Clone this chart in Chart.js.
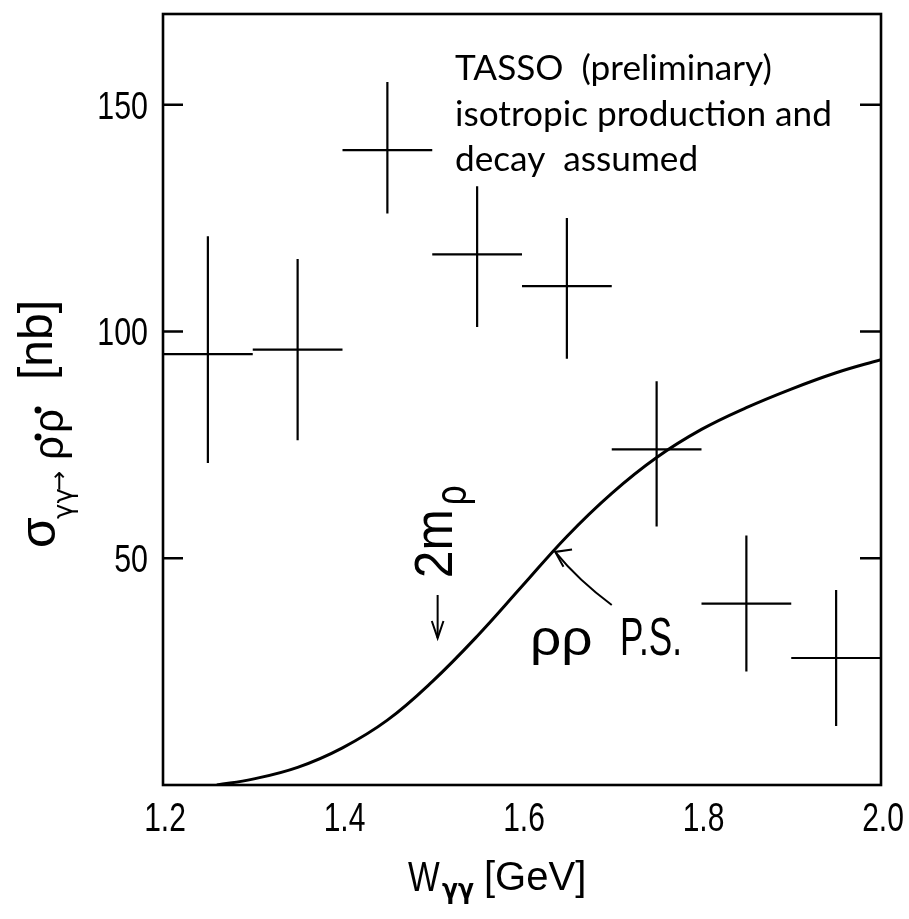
<!DOCTYPE html>
<html>
<head>
<meta charset="utf-8">
<script src="https://cdn.jsdelivr.net/npm/chart.js@4.4.1/dist/chart.umd.min.js"></script>
<style>
  html, body { margin: 0; padding: 0; background: #fff; }
  #wrap { width: 909px; height: 919px; }
</style>
</head>
<body>
<div id="wrap"><canvas id="chart" width="909" height="919"></canvas></div>
<script>
// TASSO gamma gamma -> rho0 rho0 cross section
const wBins = [1.25, 1.35, 1.45, 1.55, 1.65, 1.75, 1.85, 1.95];
const binHalf = [0.05, 0.05, 0.05, 0.05, 0.05, 0.05, 0.05, 0.05];
const sigma = [95, 96, 140, 117, 110, 74, 40, 28];
const sigmaHi = [121, 116, 155, 132, 125, 89, 55, 43];
const sigmaLo = [71, 76, 126, 101, 94, 57, 25, 13];

// rho rho phase space curve
const psW = [1.26, 1.30, 1.35, 1.40, 1.45, 1.50, 1.55, 1.60, 1.65, 1.70, 1.75, 1.80, 1.85, 1.90, 1.95, 2.00];
const psSigma = [0, 1.3, 3.9, 8.2, 14.3, 22.8, 32.8, 43.8, 54.8, 64.3, 72.2, 78.4, 83.2, 87.3, 90.9, 93.8];

const xTicks = [1.2, 1.4, 1.6, 1.8, 2.0];
const yTicks = [50, 100, 150];

// draw text squeezed horizontally (the scan uses a narrow lettering)
function txt(ctx, s, x, y, font, sx, align) {
  ctx.save();
  ctx.font = font;
  ctx.translate(x, y);
  ctx.scale(sx, 1);
  ctx.textAlign = align || 'left';
  ctx.textBaseline = 'alphabetic';
  ctx.fillText(s, 0, 0);
  ctx.restore();
}

function arrowHead(ctx, tx, ty, fx, fy, len, spread) {
  const a = Math.atan2(fy - ty, fx - tx);
  ctx.beginPath();
  ctx.moveTo(tx + len * Math.cos(a + spread), ty + len * Math.sin(a + spread));
  ctx.lineTo(tx, ty);
  ctx.lineTo(tx + len * Math.cos(a - spread), ty + len * Math.sin(a - spread));
  ctx.stroke();
}

const crossPlugin = {
  id: 'crosses',
  afterDatasetsDraw(chart) {
    const { ctx, scales: { x, y } } = chart;
    ctx.save();
    ctx.strokeStyle = '#000';
    ctx.lineWidth = 2.2;
    wBins.forEach((w, i) => {
      const px = x.getPixelForValue(w);
      const py = y.getPixelForValue(sigma[i]);
      ctx.beginPath();
      ctx.moveTo(x.getPixelForValue(w - binHalf[i]), py);
      ctx.lineTo(x.getPixelForValue(w + binHalf[i]), py);
      ctx.moveTo(px, y.getPixelForValue(sigmaHi[i]));
      ctx.lineTo(px, y.getPixelForValue(sigmaLo[i]));
      ctx.stroke();
    });
    ctx.restore();
  }
};

const decorPlugin = {
  id: 'decor',
  afterDraw(chart) {
    const { ctx, chartArea: ca, scales: { x, y } } = chart;
    ctx.save();
    ctx.strokeStyle = '#000';
    ctx.fillStyle = '#000';

    // frame
    ctx.lineWidth = 2.6;
    ctx.strokeRect(ca.left, ca.top, ca.right - ca.left, ca.bottom - ca.top);

    // inward ticks on both vertical axes
    ctx.lineWidth = 2.4;
    y.ticks.forEach(t => {
      const py = y.getPixelForValue(t.value);
      ctx.beginPath();
      ctx.moveTo(ca.left, py); ctx.lineTo(ca.left + 20, py);
      ctx.moveTo(ca.right, py); ctx.lineTo(ca.right - 21, py);
      ctx.stroke();
    });

    // tick labels
    y.ticks.forEach(t => {
      txt(ctx, String(t.value), ca.left - 15, y.getPixelForValue(t.value) + 14, '38px "Liberation Sans"', 0.8, 'right');
    });
    x.ticks.forEach(t => {
      txt(ctx, t.value.toFixed(1), x.getPixelForValue(t.value) + 2, ca.bottom + 46, '40px "Liberation Sans"', 0.75, 'center');
    });

    // TASSO text block, font size fitted to the scan width
    ctx.font = '100px Lato';
    const fs = 100 * 377 / ctx.measureText('isotropic production and').width;
    const tl = ca.left + 292;
    txt(ctx, 'TASSO  (preliminary)', tl, ca.top + 66, fs + 'px Lato', 1, 'left');
    txt(ctx, 'isotropic production and', tl, ca.top + 112, fs + 'px Lato', 1, 'left');
    txt(ctx, 'decay  assumed', tl, ca.top + 157, fs + 'px Lato', 1, 'left');

    // 2 m_rho threshold arrow
    ctx.lineWidth = 2;
    const ax = x.getPixelForValue(1.506);
    const ay0 = y.getPixelForValue(41.9), ay1 = y.getPixelForValue(32.4);
    ctx.beginPath(); ctx.moveTo(ax, ay0); ctx.lineTo(ax, ay1); ctx.stroke();
    arrowHead(ctx, ax, ay1, ax, ay0, 18, 0.33);

    ctx.save();
    ctx.translate(x.getPixelForValue(1.522), y.getPixelForValue(45.6));
    ctx.rotate(-Math.PI / 2);
    ctx.font = '54px "Liberation Sans"';
    const w2m = ctx.measureText('2m').width * 0.92;
    txt(ctx, '2m', 0, 0, '54px "Liberation Sans"', 0.92, 'left');
    txt(ctx, 'ρ', w2m + 4, 14, '44px "Liberation Sans"', 0.8, 'left');
    ctx.restore();

    // rho rho phase space label and arrow
    const lx = x.getPixelForValue(1.609), ly = y.getPixelForValue(28.7);
    txt(ctx, 'ρρ', lx, ly, '50px "Liberation Sans"', 1.1, 'left');
    txt(ctx, 'P.S.', lx + 90, ly, '54px "Liberation Sans"', 0.65, 'left');
    const tx = x.getPixelForValue(1.637), ty = y.getPixelForValue(51.4);
    const fx = x.getPixelForValue(1.700), fy = y.getPixelForValue(39.7);
    ctx.beginPath();
    ctx.moveTo(fx, fy);
    ctx.quadraticCurveTo((fx + tx) / 2 - 5, (fy + ty) / 2 + 2, tx, ty);
    ctx.stroke();
    arrowHead(ctx, tx, ty, tx + 20, ty + 10, 17, 0.6);

    // y axis title: sigma_{gamma gamma -> rho0 rho0} [nb]
    ctx.save();
    ctx.translate(55, 548);
    ctx.rotate(-Math.PI / 2);
    txt(ctx, 'σ', 0, 0, '50px "Liberation Sans"', 1, 'left');
    txt(ctx, 'γγ', 29, 17, '26px "DejaVu Sans"', 1, 'left');
    txt(ctx, '→', 57, 12, '24px "DejaVu Sans"', 1, 'left');
    txt(ctx, 'ρ', 88, 8, '42px "Liberation Sans"', 1, 'left');
    ctx.beginPath(); ctx.arc(111, -17, 3.5, 0, 2 * Math.PI); ctx.fill();
    txt(ctx, 'ρ', 115, 8, '42px "Liberation Sans"', 1, 'left');
    ctx.beginPath(); ctx.arc(138, -17, 3.5, 0, 2 * Math.PI); ctx.fill();
    txt(ctx, '[nb]', 168, -3, '48px "Liberation Sans"', 1, 'left');
    ctx.restore();

    // x axis title: W_{gamma gamma} [GeV]
    txt(ctx, 'W', 408, 891, '42px "Liberation Sans"', 0.8, 'left');
    txt(ctx, 'γγ', 442, 898, 'bold 26px "DejaVu Sans"', 0.9, 'left');
    txt(ctx, '[GeV]', 484, 890, '40px "Liberation Sans"', 1, 'left');

    ctx.restore();
  }
};

new Chart(document.getElementById('chart').getContext('2d'), {
  type: 'scatter',
  data: {
    datasets: [{
      type: 'line',
      data: psW.map((w, i) => ({ x: w, y: psSigma[i] })),
      borderColor: '#000',
      borderWidth: 3,
      pointRadius: 0,
      tension: 0.4,
      fill: false
    }]
  },
  options: {
    responsive: false,
    animation: false,
    events: [],
    layout: { padding: { left: 0, right: 28, top: 14, bottom: 0 } },
    plugins: { legend: { display: false }, tooltip: { enabled: false } },
    scales: {
      x: {
        type: 'linear', min: 1.2, max: 2.0,
        grid: { display: false }, border: { display: false },
        ticks: { display: false },
        afterBuildTicks: s => { s.ticks = xTicks.map(v => ({ value: v })); },
        afterFit: s => { s.height = 134; }
      },
      y: {
        type: 'linear', min: 0, max: 170,
        grid: { display: false }, border: { display: false },
        ticks: { display: false },
        afterBuildTicks: s => { s.ticks = yTicks.map(v => ({ value: v })); },
        afterFit: s => { s.width = 163; }
      }
    }
  },
  plugins: [crossPlugin, decorPlugin]
});
</script>
</body>
</html>
